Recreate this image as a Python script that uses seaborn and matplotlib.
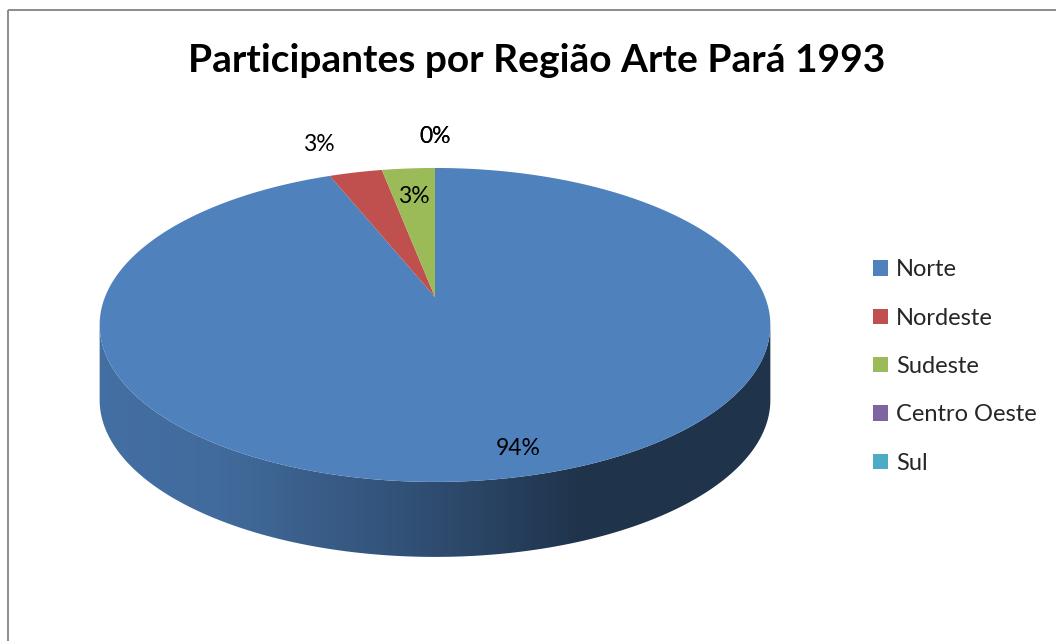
import numpy as np
import matplotlib
matplotlib.use("Agg")
import matplotlib.pyplot as plt
import seaborn as sns
from matplotlib.patches import Polygon, Rectangle

# dados
regioes = ["Norte", "Nordeste", "Sudeste", "Centro Oeste", "Sul"]
participantes = [31, 1, 1, 0, 0]
cores = ["#4F81BD", "#C0504D", "#9BBB59", "#8064A2", "#4BACC6"]
titulo = "Participantes por Região Arte Pará 1993"

# layout da pizza 3D (pixels)
W, H = 1056, 641
CX, CY = 435, 297      # centro da pizza
RX = 330               # raio horizontal
RY = 152               # fator vertical
PERSP = 0.178          # perspectiva
ALTURA = 75            # espessura lateral
# posicao dos rotulos: (raio, desvio angular)
pos_rotulos = [(0.875, 3.2), (1.29, 3), (0.75, 0), (1.30, 0), (1.30, 0)]


def projeta(x, y, z=0.0):
    d = 1 + PERSP * y
    return CX + RX * x / d, CY - RY * y / d + z * ALTURA


def sombra(xpix):
    # escurecimento da lateral conforme x
    return np.interp(xpix, [100, 220, 430, 580, 780], [0.86, 0.83, 0.60, 0.40, 0.40])


sns.set_theme(style="white")
plt.rcParams["font.family"] = ["Lato", "DejaVu Sans"]

fig = plt.figure(figsize=(W / 100, H / 100), dpi=100)
ax = fig.add_axes([0, 0, 1, 1])
ax.set_xlim(0, W)
ax.set_ylim(H, 0)
ax.axis("off")

valores = np.array(participantes, dtype=float)
total = valores.sum()
fatias = valores / total * 360
inicio = 90 - np.concatenate([[0], np.cumsum(fatias)[:-1]])
fim = inicio - fatias

delta = np.degrees(np.arcsin(PERSP))
frente = (-180 + delta, -delta)

# lateral (so a parte da frente aparece)
for i, cor in enumerate(cores):
    for k in (0, -360):
        lo = max(fim[i], frente[0] + k)
        hi = min(inicio[i], frente[1] + k)
        if hi <= lo:
            continue
        t = np.radians(np.linspace(lo, hi, 200))
        xs, ys = projeta(np.cos(t), np.sin(t))
        xb, yb = projeta(np.cos(t), np.sin(t), 1.0)
        contorno = np.column_stack([np.r_[xs, xb[::-1]], np.r_[ys, yb[::-1]]])
        clip = Polygon(contorno, closed=True, facecolor="none", edgecolor="none")
        ax.add_patch(clip)
        base = np.array(matplotlib.colors.to_rgb(cor))
        colunas = np.arange(W) + 0.5
        grad = np.clip(base[None, :] * sombra(colunas)[:, None], 0, 1)[None, :, :]
        img = ax.imshow(grad, extent=[0, W, H, 0], aspect="auto", zorder=1,
                        interpolation="bilinear")
        img.set_clip_path(clip)

# topo
alcas = []
for i, cor in enumerate(cores):
    t = np.radians(np.linspace(inicio[i], fim[i], 400))
    xs, ys = projeta(np.r_[0, np.cos(t)], np.r_[0, np.sin(t)])
    p = ax.fill(xs, ys, color=cor, lw=0, zorder=2)[0]
    alcas.append(p)

# rotulos de porcentagem
for i, v in enumerate(valores):
    r, dv = pos_rotulos[i]
    meio = np.radians((inicio[i] + fim[i]) / 2 + dv)
    px, py = projeta(r * np.cos(meio), r * np.sin(meio))
    ax.text(px, py, f"{v / total * 100:.0f}%", ha="center", va="center",
            fontsize=16.5, color="black", zorder=3)

fig.text(537 / W, 1 - 72 / H, titulo, ha="center", va="baseline",
         fontsize=28, fontweight="bold", color="black")

leg = ax.legend(alcas, regioes, loc="center left",
                bbox_to_anchor=(873 / W, 1 - 366.5 / H), bbox_transform=fig.transFigure,
                frameon=False, fontsize=17, handlelength=0.63, handleheight=0.63,
                handletextpad=0.35, labelspacing=1.16, borderpad=0, borderaxespad=0)

# moldura
ax.add_patch(Rectangle((7.5, 9.5), W, H, fill=False, edgecolor="#8C8C8C", lw=1.4, zorder=5))

fig.savefig("out.png", dpi=100)
